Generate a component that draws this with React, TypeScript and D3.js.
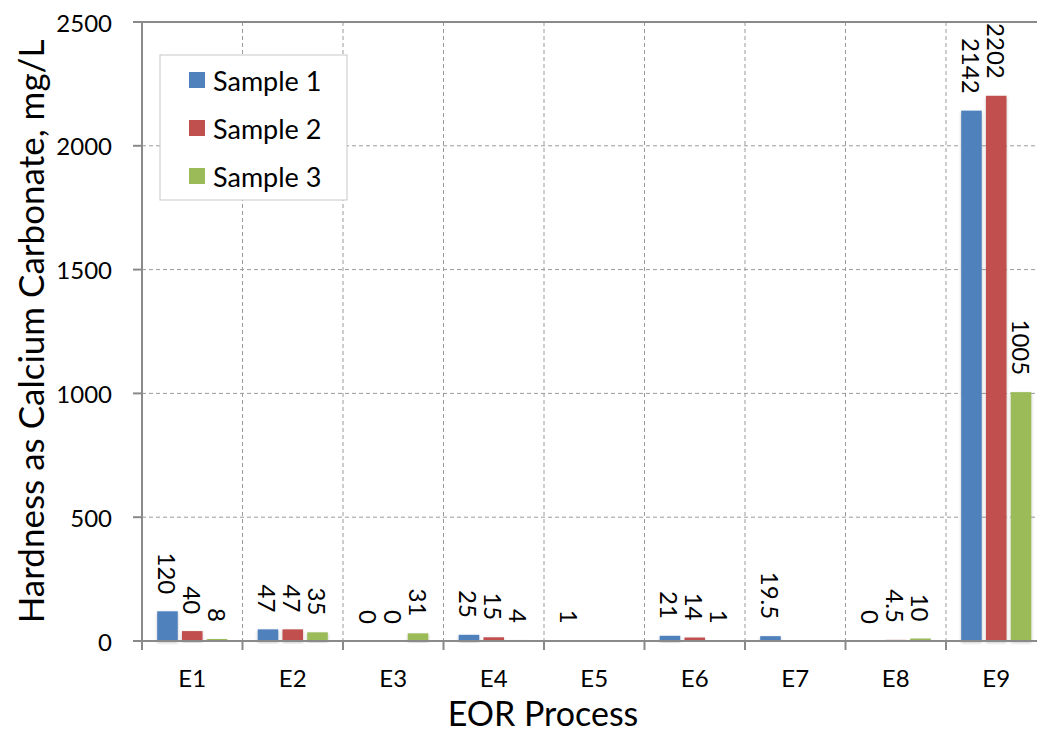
import React from "react";
import * as d3 from "d3";

const categories = ["E1", "E2", "E3", "E4", "E5", "E6", "E7", "E8", "E9"];
const seriesNames = ["Sample 1", "Sample 2", "Sample 3"];
const sample1: (number | null)[] = [120, 47, 0, 25, 1, 21, 19.5, 0, 2142];
const sample2: (number | null)[] = [40, 47, 0, 15, null, 14, null, 4.5, 2202];
const sample3: (number | null)[] = [8, 35, 31, 4, null, 1, null, 10, 1005];
const yTicks = [0, 500, 1000, 1500, 2000, 2500];
const colors = ["#4F81BD", "#C0504D", "#9BBB59"];

const W = 1037;
const H = 734;
const FONT = "Lato, 'Noto Sans', sans-serif";

export default function App() {
  const series = [sample1, sample2, sample3];
  const x = d3.scaleBand<string>().domain(categories).range([142, 1046.5]).padding(0);
  const xi = d3.scaleBand<string>().domain(seriesNames).range([15.2, 85.3]).paddingInner(0.17);
  const y = d3.scaleLinear().domain([0, 2500]).range([641, 22]);
  const step = x.step();
  const boundaries = categories.map((c) => x(c)!).concat([x(categories[categories.length - 1])! + step]);

  return (
    <svg
      width={W}
      height={H}
      style={{ position: "absolute", left: 0, top: 0, background: "#fff" }}
      fontFamily={FONT}
    >
      <defs>
        <filter id="sh" x="-20%" y="-20%" width="140%" height="140%">
          <feDropShadow dx="0" dy="1.5" stdDeviation="1.5" floodColor="#000" floodOpacity="0.25" />
        </filter>
      </defs>
      <rect x={0} y={0} width={W} height={H} fill="#fff" />
      {/* horizontal grid */}
      {yTicks.filter((t) => t > 0 && t < 2500).map((t) => (
        <line key={"hg" + t} x1={142} x2={W} y1={y(t)} y2={y(t)} stroke="#9a9a9a" strokeWidth={1} strokeDasharray="4,3" />
      ))}
      {/* vertical grid */}
      {boundaries.slice(1).map((b, i) => (
        <line key={"vg" + i} x1={b} x2={b} y1={22} y2={641} stroke="#9a9a9a" strokeWidth={1} strokeDasharray="4,3" />
      ))}
      {/* top line */}
      <line x1={133} x2={W} y1={y(2500)} y2={y(2500)} stroke="#8a8a8a" strokeWidth={2} />
      {/* bars */}
      {series.map((vals, si) =>
        vals.map((v, ci) => {
          if (v === null) return null;
          const bx = x(categories[ci])! + xi(seriesNames[si])!;
          const top = y(v);
          return (
            <rect
              key={"b" + si + "-" + ci}
              x={bx}
              y={top}
              width={xi.bandwidth()}
              height={Math.max(0, 641 - top)}
              fill={colors[si]}
              filter="url(#sh)"
            />
          );
        })
      )}
      {/* axes */}
      <line x1={142} x2={142} y1={21} y2={642} stroke="#8a8a8a" strokeWidth={2} />
      <line x1={141} x2={W} y1={641} y2={641} stroke="#8a8a8a" strokeWidth={2} />
      {yTicks.map((t) => (
        <g key={"yt" + t}>
          <line x1={133} x2={142} y1={y(t)} y2={y(t)} stroke="#8a8a8a" strokeWidth={2} />
          <text x={112} y={y(t)} textAnchor="end" dominantBaseline="central" fontSize={24} fill="#000">
            {t}
          </text>
        </g>
      ))}
      {boundaries.map((b, i) => (
        <line key={"xt" + i} x1={b} x2={b} y1={641} y2={650} stroke="#8a8a8a" strokeWidth={2} />
      ))}
      {categories.map((c) => (
        <text key={"xl" + c} x={x(c)! + step / 2} y={687} textAnchor="middle" fontSize={24} fill="#000">
          {c}
        </text>
      ))}
      {/* data labels */}
      {series.map((vals, si) =>
        vals.map((v, ci) => {
          if (v === null) return null;
          const cx = x(categories[ci])! + xi(seriesNames[si])! + xi.bandwidth() / 2;
          const ty = y(v) - 17;
          return (
            <text
              key={"dl" + si + "-" + ci}
              transform={`translate(${cx},${ty}) rotate(90)`}
              textAnchor="end"
              dominantBaseline="central"
              fontSize={24}
              fill="#000"
            >
              {String(v)}
            </text>
          );
        })
      )}
      {/* legend */}
      <rect x={160} y={55} width={187} height={145} fill="#fff" stroke="#c8c8c8" strokeWidth={1} />
      {seriesNames.map((s, i) => (
        <g key={"lg" + s}>
          <rect x={189} y={72 + i * 48} width={16} height={16} fill={colors[i]} />
          <text x={213} y={80 + i * 48} dominantBaseline="central" fontSize={27} fill="#000">
            {s}
          </text>
        </g>
      ))}
      {/* axis titles */}
      <text
        transform={`translate(30,${(22 + 641) / 2}) rotate(-90)`}
        textAnchor="middle"
        dominantBaseline="central"
        fontSize={35}
        fill="#000"
      >
        Hardness as Calcium Carbonate, mg/L
      </text>
      <text x={543} y={712} textAnchor="middle" dominantBaseline="central" fontSize={34} fill="#000">
        EOR Process
      </text>
    </svg>
  );
}
